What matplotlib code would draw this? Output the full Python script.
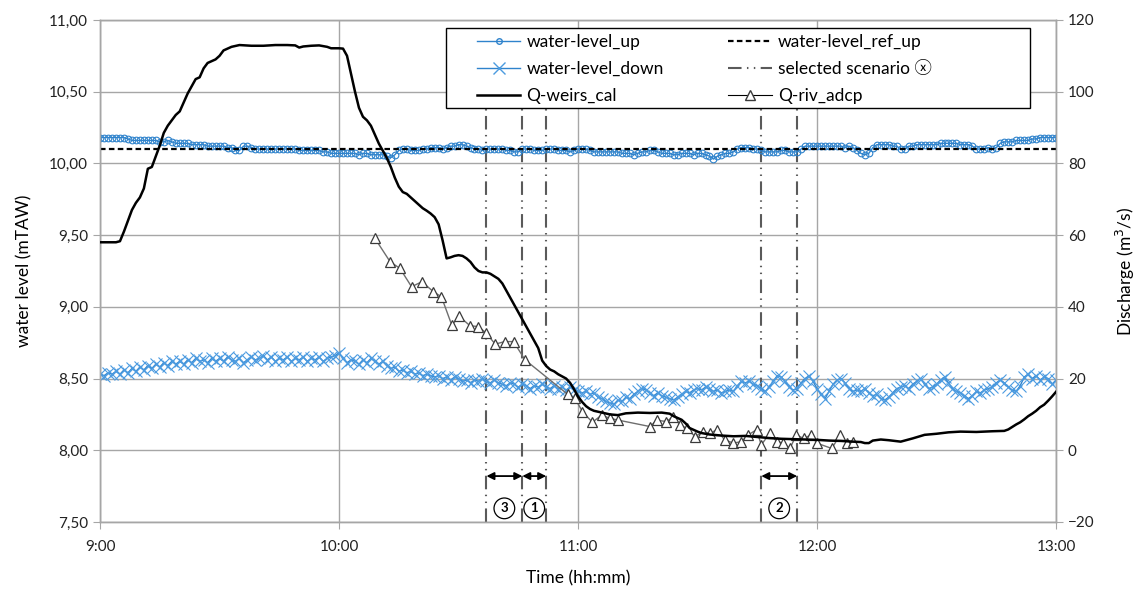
import matplotlib
matplotlib.use('Agg')
import matplotlib.pyplot as plt
import numpy as np
from matplotlib.lines import Line2D
from matplotlib.patches import Rectangle
from matplotlib.ticker import FuncFormatter, MultipleLocator

plt.rcParams['font.family'] = ['Lato', 'DejaVu Sans', 'Noto Sans CJK JP']

# water level upstream, 1 value per minute from 9:00 to 13:00 (mTAW)
level_up = [
    10.18, 10.18, 10.18, 10.18, 10.18, 10.18, 10.18, 10.17, 10.16, 10.16,
    10.16, 10.16, 10.16, 10.16, 10.16, 10.15, 10.15, 10.16, 10.15, 10.14,
    10.14, 10.14, 10.14, 10.13, 10.13, 10.13, 10.13, 10.12, 10.12, 10.12,
    10.12, 10.12, 10.11, 10.11, 10.09, 10.09, 10.12, 10.12, 10.11, 10.10,
    10.10, 10.10, 10.10, 10.10, 10.10, 10.10, 10.10, 10.10, 10.10, 10.10,
    10.09, 10.09, 10.09, 10.09, 10.09, 10.09, 10.08, 10.08, 10.07, 10.07,
    10.07, 10.07, 10.07, 10.07, 10.07, 10.06, 10.07, 10.07, 10.06, 10.06,
    10.06, 10.06, 10.05, 10.04, 10.06, 10.09, 10.10, 10.10, 10.09, 10.09,
    10.09, 10.10, 10.10, 10.11, 10.11, 10.11, 10.10, 10.11, 10.12, 10.12,
    10.13, 10.13, 10.12, 10.11, 10.10, 10.10, 10.09, 10.10, 10.10, 10.10,
    10.10, 10.10, 10.09, 10.09, 10.08, 10.08, 10.10, 10.10, 10.10, 10.09,
    10.09, 10.09, 10.10, 10.10, 10.10, 10.09, 10.09, 10.09, 10.08, 10.09,
    10.10, 10.10, 10.10, 10.09, 10.08, 10.08, 10.08, 10.08, 10.08, 10.08,
    10.08, 10.07, 10.07, 10.07, 10.06, 10.07, 10.08, 10.08, 10.09, 10.09,
    10.08, 10.07, 10.07, 10.07, 10.06, 10.06, 10.07, 10.07, 10.07, 10.06,
    10.07, 10.07, 10.06, 10.05, 10.03, 10.05, 10.06, 10.07, 10.07, 10.08,
    10.10, 10.11, 10.11, 10.11, 10.10, 10.10, 10.09, 10.08, 10.08, 10.08,
    10.08, 10.09, 10.09, 10.08, 10.08, 10.08, 10.10, 10.12, 10.12, 10.12,
    10.12, 10.12, 10.12, 10.12, 10.12, 10.12, 10.12, 10.11, 10.12, 10.11,
    10.09, 10.07, 10.06, 10.07, 10.11, 10.13, 10.13, 10.13, 10.13, 10.12,
    10.12, 10.10, 10.10, 10.12, 10.12, 10.13, 10.13, 10.13, 10.13, 10.13,
    10.13, 10.14, 10.14, 10.14, 10.14, 10.14, 10.13, 10.13, 10.13, 10.12,
    10.10, 10.10, 10.10, 10.11, 10.10, 10.11, 10.14, 10.15, 10.15, 10.15,
    10.16, 10.16, 10.16, 10.16, 10.17, 10.17, 10.18, 10.18, 10.18, 10.18,
    10.18,
]

# water level downstream, 1 value per minute (mTAW)
level_down = [
    8.53, 8.52, 8.54, 8.53, 8.55, 8.53, 8.56, 8.54, 8.57, 8.55,
    8.58, 8.56, 8.59, 8.57, 8.60, 8.58, 8.61, 8.59, 8.62, 8.60,
    8.62, 8.60, 8.63, 8.61, 8.64, 8.62, 8.63, 8.61, 8.64, 8.62,
    8.64, 8.62, 8.65, 8.63, 8.62, 8.64, 8.61, 8.63, 8.65, 8.63,
    8.64, 8.66, 8.63, 8.65, 8.62, 8.64, 8.63, 8.65, 8.62, 8.64,
    8.63, 8.65, 8.62, 8.64, 8.63, 8.65, 8.62, 8.64, 8.65, 8.66,
    8.68, 8.64, 8.61, 8.63, 8.62, 8.60, 8.63, 8.61, 8.64, 8.62,
    8.60, 8.62, 8.59, 8.57, 8.58, 8.55, 8.56, 8.54, 8.55, 8.53,
    8.54, 8.52, 8.53, 8.52, 8.51, 8.52, 8.50, 8.51, 8.49, 8.51,
    8.50, 8.48, 8.49, 8.47, 8.49, 8.48, 8.50, 8.48, 8.47, 8.49,
    8.47, 8.46, 8.45, 8.47, 8.46, 8.44, 8.46, 8.45, 8.43, 8.45,
    8.44, 8.46, 8.44, 8.43, 8.45, 8.43, 8.44, 8.42, 8.44, 8.42,
    8.41, 8.40, 8.41, 8.39, 8.40, 8.37, 8.36, 8.34, 8.33, 8.32,
    8.35, 8.34, 8.37, 8.36, 8.39, 8.41, 8.43, 8.42, 8.40, 8.38,
    8.40, 8.38, 8.37, 8.36, 8.35, 8.37, 8.39, 8.41, 8.40, 8.42,
    8.43, 8.42, 8.44, 8.43, 8.41, 8.42, 8.40, 8.41, 8.42, 8.41,
    8.45, 8.48, 8.47, 8.48, 8.46, 8.45, 8.43, 8.41, 8.44, 8.48,
    8.52, 8.51, 8.48, 8.44, 8.42, 8.43, 8.47, 8.50, 8.52, 8.48,
    8.43, 8.39, 8.36, 8.41, 8.46, 8.49, 8.50, 8.47, 8.43, 8.41,
    8.42, 8.41, 8.43, 8.40, 8.38, 8.39, 8.36, 8.35, 8.37, 8.40,
    8.43, 8.44, 8.45, 8.43, 8.46, 8.48, 8.50, 8.46, 8.43, 8.44,
    8.46, 8.49, 8.51, 8.47, 8.43, 8.41, 8.40, 8.38, 8.36, 8.38,
    8.41, 8.40, 8.42, 8.43, 8.44, 8.47, 8.49, 8.47, 8.44, 8.42,
    8.41, 8.45, 8.51, 8.53, 8.50, 8.52, 8.49, 8.51, 8.50, 8.46,
    8.49,
]

level_ref_up = 10.10

# calculated weir discharge (minutes after 9:00, m3/s)
weirs_t = [0, 4, 5, 6, 7, 8, 9, 10, 11, 12, 13, 14, 15, 16, 17, 18, 19, 20,
           21, 22, 23, 24, 25, 26, 27, 28, 29, 30, 31, 32, 33, 35, 38, 41, 44,
           47, 49, 50, 51, 53, 55, 57, 58, 60, 61, 62, 63, 64, 65, 66, 67, 68,
           69, 70, 71, 72, 73, 74, 75, 76, 77, 78, 79, 80, 81, 82, 83, 84, 85,
           86, 87, 88, 89, 90, 91, 92, 93, 94, 95, 96, 97, 98, 99, 100, 101,
           102, 103, 104, 105, 106, 107, 108, 109, 110, 111, 112, 113, 114,
           115, 116, 117, 118, 119, 120, 121, 122, 123, 124, 126, 128, 130,
           132, 135, 138, 141, 143, 144, 145, 146, 147, 148, 149, 150, 151,
           153, 156, 159, 162, 165, 168, 171, 174, 177, 180, 183, 186, 189,
           191, 192, 193, 194, 196, 198, 201, 204, 207, 210, 213, 216, 220,
           224, 227, 228, 229, 230, 231, 232, 233, 234, 235, 236, 237, 238,
           239, 240]
weirs_q = [58, 58, 58.3, 61, 64, 67, 69, 70.5, 73, 78.5, 79, 82, 85, 88.5,
           90.5, 92, 93.5, 94.5, 97, 99.5, 101.5, 103.5, 104, 106.5, 108,
           108.5, 109, 110, 111.5, 112, 112.5, 113, 112.8, 112.8, 113, 113,
           112.9, 112.3, 112.6, 112.8, 112.9, 112.5, 112.1, 112.1, 112, 110,
           105, 100, 95.5, 93, 92, 90.5, 88, 85.5, 83.5, 81.5, 79, 76, 73.5,
           72, 71.5, 70.5, 69.5, 68.5, 67.5, 66.8, 66, 65, 63, 58.5, 53.5,
           53.8, 54.2, 54.4, 54.2, 53.5, 52.5, 51, 50, 49.6, 49.6, 49.2, 48.5,
           47.8, 46.5, 44.5, 42.5, 40.5, 38.5, 36.5, 34.5, 32.5, 30.5, 28.5,
           25, 23.5, 22.5, 22, 21.2, 20.6, 20, 18.8, 17, 15, 13.5, 12.3, 11.5,
           11, 10.5, 10, 9.8, 10.3, 10.5, 10.4, 10.5, 10.2, 9.5, 9, 8.5, 7.5,
           6.2, 5.7, 5.2, 4.8, 4.4, 4.1, 3.9, 4.0, 3.7, 3.4, 3.2, 3.1, 3.0,
           2.9, 2.7, 2.6, 2.4, 2.3, 2.0, 2.0, 2.7, 3.0, 2.8, 2.4, 3.3, 4.3,
           4.6, 5.0, 5.2, 5.1, 5.3, 5.4, 5.8, 6.5, 7.2, 7.8, 8.6, 9.5, 10.2,
           11, 12, 12.7, 13.8, 15, 16.3]

# ADCP river discharge measurements (minutes after 9:00, m3/s)
adcp_t = [69.0, 72.8, 75.3, 78.2, 80.8, 83.7, 85.7, 88.3, 90.2, 92.9,
          95.0, 97.0, 99.2, 101.6, 103.8, 106.7, 117.4, 119.2, 121.1, 123.6,
          125.9, 128.0, 130.1, 138.1, 139.7, 142.2, 143.9, 145.6, 147.3, 149.4,
          151.4, 153.1, 154.8, 156.8, 159.0, 161.0, 162.7, 164.8, 166.0, 168.1,
          169.9, 171.5, 173.2, 174.8, 176.6, 178.6, 179.9, 183.7, 185.8, 187.4,
          189.1]
adcp_q = [59.1, 52.6, 50.7, 45.6, 47.0, 44.2, 42.8, 34.9, 37.3, 34.7,
          34.5, 32.6, 29.6, 30.3, 30.3, 25.2, 15.6, 14.5, 10.8, 7.8,
          9.8, 8.9, 8.4, 6.6, 8.4, 8.0, 9.4, 7.1, 6.1, 3.8,
          5.2, 4.7, 5.7, 2.9, 2.0, 2.4, 4.3, 5.7, 1.5, 4.7,
          2.4, 2.0, 0.5, 4.3, 3.3, 4.3, 2.0, 0.5, 4.3, 2.0,
          2.4]

# selected scenario boundaries (minutes after 9:00) and their labels
scenario_t = [97, 106, 112, 166, 175]
scenario_spans = [(97, 106, '3'), (106, 112, '1'), (166, 175, '2')]

BLUE = '#2F83CC'
BLUE_X = '#4C9BE0'
GRID = '#A6A6A6'
SCEN = '#5A5A5A'
scen_dash = (0, (6.5, 2.6, 0.7, 2.6, 0.7, 2.6))

minutes = np.arange(len(level_up))

fig = plt.figure(figsize=(11.37, 5.90), dpi=100)
ax = fig.add_axes([0.088, 0.1153, 0.8408, 0.8509])
ax2 = ax.twinx()

ax.plot(minutes, level_up, color=BLUE, lw=1, marker='o', ms=4.8,
        mfc='none', mec=BLUE, mew=0.8, zorder=3)
ax.plot(minutes, level_down, color=BLUE, lw=1, marker='x', ms=8.5,
        mec=BLUE_X, mew=0.8, zorder=3)
ax.axhline(level_ref_up, color='black', lw=1.6, ls=(0, (2.5, 1.5)), zorder=4)
ax.vlines(scenario_t, 7.5, 10.48, colors=SCEN, lw=1.5, linestyles=[scen_dash], zorder=2)

for t0, t1, lab in scenario_spans:
    ax.annotate('', xy=(t1, 7.82), xytext=(t0, 7.82),
                arrowprops=dict(arrowstyle='<|-|>', color='black', lw=1.3,
                                shrinkA=0, shrinkB=0, mutation_scale=11))
    ax.text((t0 + t1) / 2, 7.595, lab, ha='center', va='center', fontsize=9.5,
            fontweight='bold',
            bbox=dict(boxstyle='circle,pad=0.33', fc='white', ec='black', lw=0.9))

ax2.plot(weirs_t, weirs_q, color='black', lw=1.8, zorder=5)
ax2.plot(adcp_t, adcp_q, color='#6E6E6E', lw=1, marker='^', ms=7,
         mfc='white', mec='#3A3A3A', mew=0.9, zorder=4)

ax.set_xlim(0, 240)
ax.set_ylim(7.5, 11.0)
ax2.set_ylim(-20, 120)
ax.xaxis.set_major_locator(MultipleLocator(60))
ax.yaxis.set_major_locator(MultipleLocator(0.5))
ax2.yaxis.set_major_locator(MultipleLocator(20))
ax.xaxis.set_major_formatter(FuncFormatter(lambda v, p: f"{9 + int(v) // 60}:{int(v) % 60:02d}"))
ax.yaxis.set_major_formatter(FuncFormatter(lambda v, p: f"{v:.2f}".replace('.', ',')))

ax.grid(True, color=GRID, lw=1)
ax.set_axisbelow(True)
for a in (ax, ax2):
    for s in a.spines.values():
        s.set_color(GRID)
        s.set_linewidth(1)
    a.tick_params(direction='out', length=5, color=GRID, labelsize=11, labelcolor='#222222')
ax.tick_params(axis='x', pad=8)

ax.set_xlabel('Time (hh:mm)', fontsize=12.5, labelpad=12)
ax.set_ylabel('water level (mTAW)', fontsize=12.5, labelpad=12)
ax2.set_ylabel('Discharge (m$^3$/s)', fontsize=12.5, labelpad=14)

# legend frame drawn separately so the padding matches the original box
ax2.add_patch(Rectangle((0.362, 0.8247), 0.6109, 0.1594, transform=ax2.transAxes,
                        fc='white', ec='black', lw=1, zorder=9))

handles = [
    Line2D([], [], color=BLUE, lw=1, marker='o', ms=4, mfc='none', mec=BLUE),
    Line2D([], [], color=BLUE, lw=1, marker='x', ms=8, mec=BLUE_X),
    Line2D([], [], color='black', lw=1.8),
    Line2D([], [], color='black', lw=1.6, ls=(0, (2.5, 1.5))),
    Line2D([], [], color=SCEN, lw=1.5, ls=scen_dash),
    Line2D([], [], color='black', lw=0.8, marker='^', ms=7, mfc='white', mec='#3A3A3A'),
]
labels = ['water-level_up', 'water-level_down', 'Q-weirs_cal',
          'water-level_ref_up', 'selected scenario \u24e7', 'Q-riv_adcp']
leg = ax2.legend(handles, labels, ncol=2, loc='upper left',
                 bbox_to_anchor=(0.388, 0.984), fontsize=12.5, frameon=False,
                 handlelength=2.5, handletextpad=0.35, columnspacing=3.7,
                 labelspacing=0.62, borderpad=0.35, borderaxespad=0)
leg.set_zorder(10)

fig.savefig('out.png', dpi=100)
